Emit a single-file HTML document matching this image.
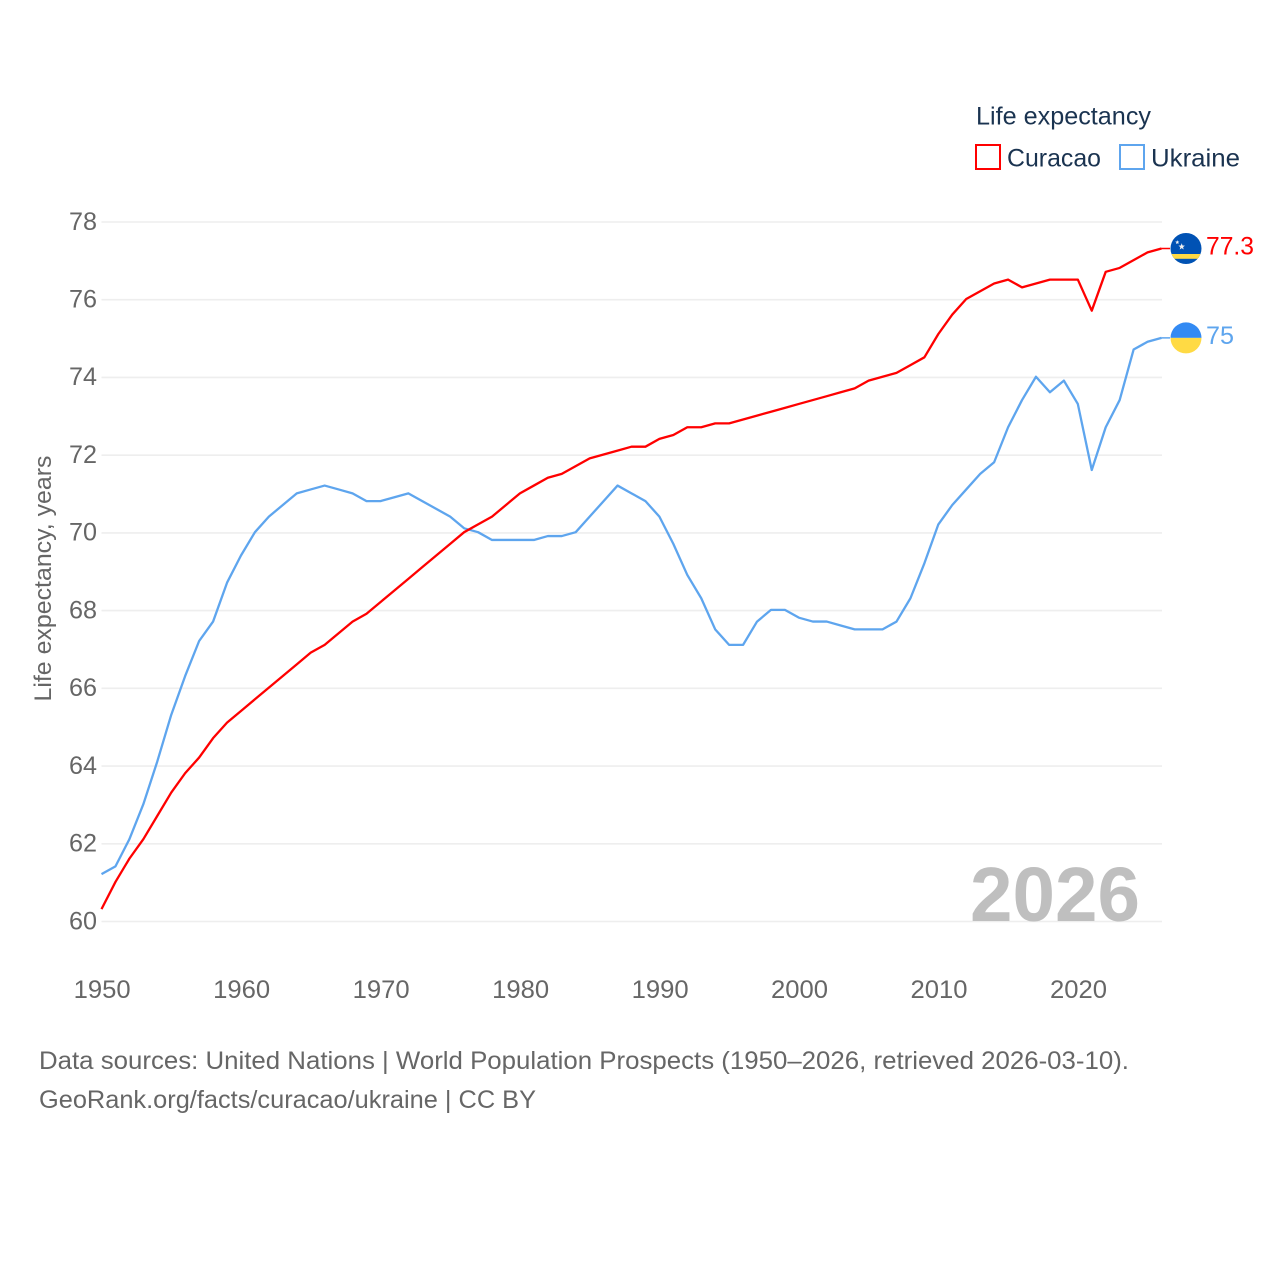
<!DOCTYPE html>
<html lang="en">
<head>
<meta charset="utf-8">
<title>Life expectancy: Curacao and Ukraine</title>
<style>
  html,body{margin:0;padding:0;background:#fff;}
  svg{display:block;font-family:"Liberation Sans",sans-serif;}
</style>
</head>
<body>
<svg id="chart" width="1280" height="1280" viewBox="0 0 1280 1280">
  <defs>
    <clipPath id="clip-curacao"><circle id="clip-c-circle" r="15.5"></circle></clipPath>
    <clipPath id="clip-ukraine"><circle id="clip-u-circle" r="15.5"></circle></clipPath>
  </defs>
  <g id="grid"></g>
  <g id="y-ticks"></g>
  <g id="x-ticks"></g>
  <text transform="translate(51,578.5) rotate(-90)" text-anchor="middle" font-size="24" fill="#666" textLength="246" lengthAdjust="spacingAndGlyphs">Life expectancy, years</text>
  <text x="970" y="921" font-size="77" font-weight="bold" fill="#bfbfbf" textLength="170" lengthAdjust="spacingAndGlyphs">2026</text>
  <g id="series"></g>
  <g id="end-labels"></g>
  <g>
    <text x="976" y="124.5" font-size="25" fill="#1a3350" textLength="175" lengthAdjust="spacingAndGlyphs">Life expectancy</text>
    <rect x="976" y="145" width="24" height="24" fill="none" stroke="#ff0000" stroke-width="2"></rect>
    <text x="1007" y="166.5" font-size="25" fill="#1a3350" textLength="94" lengthAdjust="spacingAndGlyphs">Curacao</text>
    <rect x="1120" y="145" width="24" height="24" fill="none" stroke="#5ea5ee" stroke-width="2"></rect>
    <text x="1151" y="166.5" font-size="25" fill="#1a3350" textLength="89" lengthAdjust="spacingAndGlyphs">Ukraine</text>
  </g>
  <text x="39" y="1069" font-size="25" fill="#666" textLength="1090" lengthAdjust="spacingAndGlyphs">Data sources: United Nations | World Population Prospects (1950–2026, retrieved 2026-03-10).</text>
  <text x="39" y="1108" font-size="25" fill="#666" textLength="497" lengthAdjust="spacingAndGlyphs">GeoRank.org/facts/curacao/ukraine | CC BY</text>
</svg>
<script>
const years = [1950,1951,1952,1953,1954,1955,1956,1957,1958,1959,1960,1961,1962,1963,1964,1965,1966,1967,1968,1969,1970,1971,1972,1973,1974,1975,1976,1977,1978,1979,1980,1981,1982,1983,1984,1985,1986,1987,1988,1989,1990,1991,1992,1993,1994,1995,1996,1997,1998,1999,2000,2001,2002,2003,2004,2005,2006,2007,2008,2009,2010,2011,2012,2013,2014,2015,2016,2017,2018,2019,2020,2021,2022,2023,2024,2025,2026];
const curacao = [60.3,61.0,61.6,62.1,62.7,63.3,63.8,64.2,64.7,65.1,65.4,65.7,66.0,66.3,66.6,66.9,67.1,67.4,67.7,67.9,68.2,68.5,68.8,69.1,69.4,69.7,70.0,70.2,70.4,70.7,71.0,71.2,71.4,71.5,71.7,71.9,72.0,72.1,72.2,72.2,72.4,72.5,72.7,72.7,72.8,72.8,72.9,73.0,73.1,73.2,73.3,73.4,73.5,73.6,73.7,73.9,74.0,74.1,74.3,74.5,75.1,75.6,76.0,76.2,76.4,76.5,76.3,76.4,76.5,76.5,76.5,75.7,76.7,76.8,77.0,77.2,77.3];
const ukraine = [61.2,61.4,62.1,63.0,64.1,65.3,66.3,67.2,67.7,68.7,69.4,70.0,70.4,70.7,71.0,71.1,71.2,71.1,71.0,70.8,70.8,70.9,71.0,70.8,70.6,70.4,70.1,70.0,69.8,69.8,69.8,69.8,69.9,69.9,70.0,70.4,70.8,71.2,71.0,70.8,70.4,69.7,68.9,68.3,67.5,67.1,67.1,67.7,68.0,68.0,67.8,67.7,67.7,67.6,67.5,67.5,67.5,67.7,68.3,69.2,70.2,70.7,71.1,71.5,71.8,72.7,73.4,74.0,73.6,73.9,73.3,71.6,72.7,73.4,74.7,74.9,75.0];
const yTickLabels = [60,62,64,66,68,70,72,74,76,78];
const xTickLabels = [1950,1960,1970,1980,1990,2000,2010,2020];
const curacaoEndLabel = "77.3";
const ukraineEndLabel = "75";

const NS = "http://www.w3.org/2000/svg";
const xScale = v => 101.5 + (v - 1950) * (1161.5 - 101.5) / 76;
const yScale = v => 921.5 - (v - 60) * (921.5 - 222) / 18;
const lineY = v => yScale(v) - 0.7;

function make(tag, attrs, parent, text) {
  const el = document.createElementNS(NS, tag);
  for (const k in attrs) el.setAttribute(k, attrs[k]);
  if (text !== undefined) el.textContent = text;
  parent.appendChild(el);
  return el;
}

function starPoints(cx, cy, r) {
  const pts = [];
  for (let i = 0; i < 10; i++) {
    const a = -Math.PI / 2 + i * Math.PI / 5;
    const rad = i % 2 ? r * 0.42 : r;
    pts.push((cx + rad * Math.cos(a)).toFixed(2) + "," + (cy + rad * Math.sin(a)).toFixed(2));
  }
  return pts.join(" ");
}

const gridG = document.getElementById("grid");
const yG = document.getElementById("y-ticks");
yTickLabels.forEach(t => {
  const line = make("line", {x1:101.5, x2:1162, y1:yScale(t), y2:yScale(t), stroke:"#eeeeee", "stroke-width":1.6}, gridG);
  
  
  const lab = make("text", {x:97, y:yScale(t)+7.8, "text-anchor":"end", "font-size":25, fill:"#666", textLength:28, lengthAdjust:"spacingAndGlyphs"}, yG, t);
  
  
});

const xG = document.getElementById("x-ticks");
xTickLabels.forEach(t => {
  const lab = make("text", {x:xScale(t)+0.7, y:998, "text-anchor":"middle", "font-size":25, fill:"#666", textLength:57, lengthAdjust:"spacingAndGlyphs"}, xG, t);
  
  
});

const seriesG = document.getElementById("series");
function linePath(values) {
  return values.map((v, i) => (i ? "L" : "M") + xScale(years[i]).toFixed(2) + " " + lineY(v).toFixed(2)).join("");
}
const uLine = make("path", {d:linePath(ukraine), fill:"none", stroke:"#5ea5ee", "stroke-width":2.3, "stroke-linejoin":"round"}, seriesG);


const cLine = make("path", {d:linePath(curacao), fill:"none", stroke:"#ff0000", "stroke-width":2.3, "stroke-linejoin":"round"}, seriesG);



const endG = document.getElementById("end-labels");
const lastYear = years[years.length-1];
const cx = 1186;
const cy = lineY(curacao[curacao.length-1]);
const uy = lineY(ukraine[ukraine.length-1]);

const cConn = make("line", {x1:xScale(lastYear), x2:cx-16, y1:cy, y2:cy, stroke:"#ff0000", "stroke-width":1.5}, endG);


const uConn = make("line", {x1:xScale(lastYear), x2:cx-16, y1:uy, y2:uy, stroke:"#5ea5ee", "stroke-width":1.5}, endG);



document.getElementById("clip-c-circle").setAttribute("cx", cx);
document.getElementById("clip-c-circle").setAttribute("cy", cy);
document.getElementById("clip-u-circle").setAttribute("cx", cx);
document.getElementById("clip-u-circle").setAttribute("cy", uy);

const cFlag = make("g", {"clip-path":"url(#clip-curacao)"}, endG);


make("rect", {x:cx-16, y:cy-16, width:32, height:32, fill:"#0052b4"}, cFlag);
make("rect", {x:cx-16, y:cy+5.5, width:32, height:4.8, fill:"#ffda44"}, cFlag);
make("polygon", {points:starPoints(cx-4.3, cy-1.8, 3.4), fill:"#f0f0f0"}, cFlag);
make("polygon", {points:starPoints(cx-8.7, cy-6.2, 2.2), fill:"#f0f0f0"}, cFlag);
const cVal = make("text", {x:1206, y:cy+5.9, "font-size":25, fill:"#ff0000", textLength:48, lengthAdjust:"spacingAndGlyphs"}, endG, curacaoEndLabel);



const uFlag = make("g", {"clip-path":"url(#clip-ukraine)"}, endG);


make("rect", {x:cx-16, y:uy-16, width:32, height:16, fill:"#338af3"}, uFlag);
make("rect", {x:cx-16, y:uy, width:32, height:16, fill:"#ffda44"}, uFlag);
const uVal = make("text", {x:1206, y:uy+6.2, "font-size":25, fill:"#5ea5ee", textLength:28, lengthAdjust:"spacingAndGlyphs"}, endG, ukraineEndLabel);


</script>
</body>
</html>
